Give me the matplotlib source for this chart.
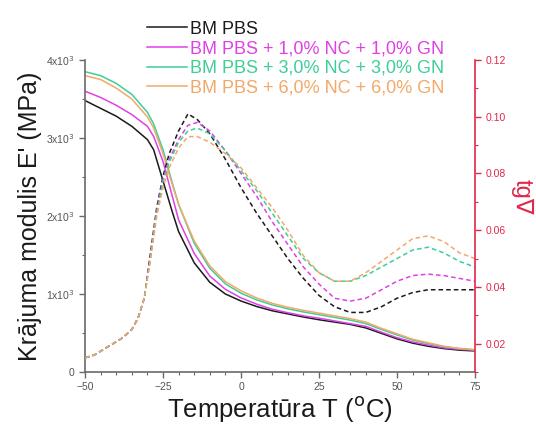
import matplotlib
matplotlib.use("Agg")
import matplotlib.pyplot as plt
from matplotlib.ticker import MultipleLocator, FixedLocator, FixedFormatter

plt.rcParams['font.family'] = ['Liberation Sans', 'DejaVu Sans']

# ---- data ----
labels = ["BM PBS",
          "BM PBS + 1,0% NC + 1,0% GN",
          "BM PBS + 3,0% NC + 3,0% GN",
          "BM PBS + 6,0% NC + 6,0% GN"]
colors = ["#1a1a1a", "#e040e6", "#3ccf96", "#f2a868"]

# storage modulus E' (MPa)
T_E = [-50, -45, -40, -35, -30, -28, -25, -22, -20, -15, -10, -5, 0, 5, 10, 15, 20,
       25, 30, 35, 40, 45, 50, 55, 60, 65, 70, 75]
E_bm = [3480, 3380, 3280, 3150, 2980, 2850, 2450, 2050, 1800, 1400, 1150, 1000, 910,
        840, 785, 745, 705, 670, 640, 610, 565, 495, 425, 370, 330, 300, 280, 270]
E_1 = [3600, 3520, 3420, 3300, 3150, 3020, 2700, 2250, 1950, 1520, 1230, 1060, 950,
       870, 805, 760, 720, 690, 655, 620, 585, 510, 440, 385, 345, 310, 290, 280]
E_3 = [3850, 3800, 3700, 3560, 3330, 3180, 2850, 2420, 2150, 1650, 1330, 1130, 1010,
       925, 860, 810, 770, 735, 700, 665, 620, 545, 475, 410, 365, 325, 300, 285]
E_6 = [3800, 3750, 3640, 3500, 3270, 3130, 2800, 2400, 2150, 1680, 1360, 1160, 1040,
       950, 880, 830, 790, 755, 720, 685, 640, 560, 490, 420, 375, 330, 302, 285]

# loss factor tg delta
T_d = [-50, -47, -44, -41, -38, -35, -33, -31, -29, -27, -25, -23, -20, -17, -14,
       -10, -5, 0, 5, 10, 15, 20, 25, 30, 35, 40, 45, 50, 55, 60, 65, 70, 75]
d_bm = [0.015, 0.016, 0.018, 0.020, 0.022, 0.025, 0.029, 0.036, 0.052, 0.068, 0.079,
        0.087, 0.095, 0.101, 0.099, 0.094, 0.085, 0.075, 0.066, 0.058, 0.050, 0.043,
        0.037, 0.033, 0.031, 0.031, 0.033, 0.036, 0.038, 0.039, 0.039, 0.039, 0.039]
d_1 = [0.015, 0.016, 0.018, 0.020, 0.022, 0.025, 0.029, 0.036, 0.051, 0.067, 0.078,
       0.085, 0.092, 0.097, 0.098, 0.095, 0.088, 0.080, 0.072, 0.063, 0.055, 0.047,
       0.041, 0.036, 0.035, 0.036, 0.039, 0.042, 0.044, 0.0445, 0.044, 0.043, 0.042]
d_3 = [0.015, 0.016, 0.018, 0.020, 0.022, 0.025, 0.029, 0.036, 0.050, 0.066, 0.077,
       0.084, 0.091, 0.095, 0.096, 0.094, 0.088, 0.081, 0.074, 0.066, 0.058, 0.050,
       0.045, 0.042, 0.042, 0.044, 0.047, 0.050, 0.053, 0.054, 0.052, 0.049, 0.047]
d_6 = [0.015, 0.016, 0.018, 0.020, 0.022, 0.025, 0.029, 0.036, 0.050, 0.065, 0.075,
       0.082, 0.089, 0.093, 0.093, 0.091, 0.087, 0.082, 0.075, 0.068, 0.060, 0.051,
       0.045, 0.042, 0.042, 0.045, 0.049, 0.053, 0.057, 0.058, 0.056, 0.052, 0.050]

E_series = [E_bm, E_1, E_3, E_6]
d_series = [d_bm, d_1, d_3, d_6]

xticks = [-50, -25, 0, 25, 50, 75]
yticks = [0, 1000, 2000, 3000, 4000]
ytick_labels = ["0", r"1x10$^3$", r"2x10$^3$", r"3x10$^3$", r"4x10$^3$"]
rticks = [0.02, 0.04, 0.06, 0.08, 0.10, 0.12]

# ---- figure ----
fig = plt.figure(figsize=(5.36, 4.30), dpi=100)
ax = fig.add_axes([85/536, 58/430, 390/536, 312/430])
ax2 = ax.twinx()

spine_gray = "#6a6a6a"
red = "#e0284a"

handles = []
for T, E, c, lab in zip([T_E]*4, E_series, colors, labels):
    h, = ax.plot(T, E, color=c, lw=1.1, label=lab)
    handles.append(h)
for d, c in zip(d_series, colors):
    ax2.plot(T_d, d, color=c, lw=1.1, ls=(0, (3, 2)))

ax.set_xlim(-50, 75)
ax.set_ylim(0, 4000)
ax2.set_ylim(0.01, 0.12)

ax.xaxis.set_major_locator(FixedLocator(xticks))
ax.xaxis.set_minor_locator(MultipleLocator(5))
ax.yaxis.set_major_locator(FixedLocator(yticks))
ax.yaxis.set_major_formatter(FixedFormatter(ytick_labels))
ax.yaxis.set_minor_locator(MultipleLocator(500))
ax2.yaxis.set_major_locator(FixedLocator(rticks))
ax2.yaxis.set_minor_locator(MultipleLocator(0.01))
ax2.yaxis.set_major_formatter(plt.FuncFormatter(lambda v, p: f"{v:.2f}"))

for a in (ax, ax2):
    a.spines['top'].set_visible(False)
ax.spines['right'].set_visible(False)
ax2.spines['left'].set_visible(False)
ax2.spines['bottom'].set_visible(False)
for s in ('left', 'bottom'):
    ax.spines[s].set_color(spine_gray)
    ax.spines[s].set_linewidth(1.2)
ax2.spines['right'].set_color(red)
ax2.spines['right'].set_linewidth(1.2)

ax.tick_params(axis='both', which='major', direction='out', length=4, width=1,
               color=spine_gray, labelcolor="#555555", labelsize=7.5)
ax.tick_params(axis='both', which='minor', direction='out', length=2.5, width=0.8,
               color=spine_gray)
ax2.tick_params(axis='y', which='major', direction='out', length=4, width=1,
                color=red, labelcolor=red, labelsize=7.5)
ax2.tick_params(axis='y', which='minor', direction='out', length=2.5, width=0.8,
                color=red)

ax.set_xlabel("Temperatūra T ($^{\\mathrm{o}}$C)", fontsize=18.5, color="#1a1a1a",
              labelpad=1)
ax.set_ylabel("Krājuma modulis E' (MPa)", fontsize=18, color="#1a1a1a", labelpad=3)
ax2.set_ylabel("tg∇", fontsize=17, color=red, rotation=270, va='center')
ax2.yaxis.set_label_coords(1.12, 0.56)

leg = ax.legend(handles=handles, loc='upper left',
                bbox_to_anchor=(147/536, 1 - 20.5/430), bbox_transform=fig.transFigure,
                frameon=False, fontsize=13, labelcolor='linecolor',
                handlelength=2.2, handletextpad=0.2, labelspacing=0.15,
                borderaxespad=0, borderpad=0)

fig.savefig("out.png", dpi=100)
